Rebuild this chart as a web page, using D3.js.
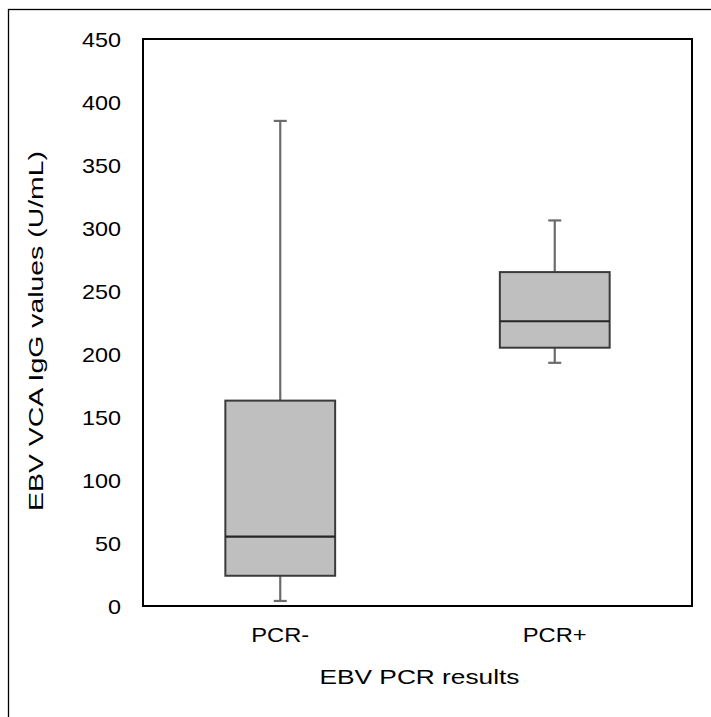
<!DOCTYPE html>
<html>
<head>
<meta charset="utf-8">
<script src="https://cdn.jsdelivr.net/npm/d3@7/dist/d3.min.js"></script>
<style>
  html, body { margin: 0; padding: 0; background: #fff; }
  svg { display: block; }
  text { font-family: "Liberation Sans", Arial, sans-serif; fill: #000; font-weight: normal; }
</style>
</head>
<body>
<div id="chart"></div>
<script>
// Box-plot summaries of EBV VCA IgG values by PCR result
const categories = ["PCR-", "PCR+"];
const whiskerLow = [4, 193];
const q1 = [24, 205];
const median = [55, 226];
const q3 = [163, 265];
const whiskerHigh = [385, 306];
const yTicks = [0, 50, 100, 150, 200, 250, 300, 350, 400, 450];

const W = 711, H = 717;
const plot = { left: 143, top: 39, right: 692, bottom: 606 };
const FONT = "'Liberation Sans', Arial, sans-serif";

const svg = d3.select("#chart").append("svg")
  .attr("width", W).attr("height", H);

svg.append("rect").attr("width", W).attr("height", H).attr("fill", "#fff");

// outer chart frame (runs past the right and bottom edges)
svg.append("rect")
  .attr("x", 8.5).attr("y", 9.5)
  .attr("width", W + 20).attr("height", H + 20)
  .attr("fill", "none").attr("stroke", "#000").attr("stroke-width", 1.3);

const x = d3.scaleBand().domain(categories)
  .range([plot.left, plot.right]).paddingInner(0).paddingOuter(0);
const y = d3.scaleLinear().domain([0, 450]).range([plot.bottom, plot.top]);

const boxW = x.bandwidth() * 0.4;
const capW = 13;

const data = categories.map((c, i) => ({
  c, lo: whiskerLow[i], q1: q1[i], med: median[i], q3: q3[i], hi: whiskerHigh[i]
}));

const g = svg.append("g");
data.forEach(d => {
  const cx = x(d.c) + x.bandwidth() / 2;
  // whiskers
  g.append("line").attr("x1", cx).attr("x2", cx)
    .attr("y1", y(d.q3)).attr("y2", y(d.hi))
    .attr("stroke", "#6b6b6b").attr("stroke-width", 2.2);
  g.append("line").attr("x1", cx).attr("x2", cx)
    .attr("y1", y(d.q1)).attr("y2", y(d.lo))
    .attr("stroke", "#6b6b6b").attr("stroke-width", 2.2);
  [d.hi, d.lo].forEach(v => {
    g.append("line").attr("x1", cx - capW / 2).attr("x2", cx + capW / 2)
      .attr("y1", y(v)).attr("y2", y(v))
      .attr("stroke", "#6b6b6b").attr("stroke-width", 2.2);
  });
  // box
  g.append("rect")
    .attr("x", cx - boxW / 2).attr("width", boxW)
    .attr("y", y(d.q3)).attr("height", y(d.q1) - y(d.q3))
    .attr("fill", "#bfbfbf").attr("stroke", "#3a3a3a").attr("stroke-width", 2);
  // median
  g.append("line").attr("x1", cx - boxW / 2).attr("x2", cx + boxW / 2)
    .attr("y1", y(d.med)).attr("y2", y(d.med))
    .attr("stroke", "#262626").attr("stroke-width", 2.2);
});

// plot frame
svg.append("rect")
  .attr("x", plot.left).attr("y", plot.top)
  .attr("width", plot.right - plot.left).attr("height", plot.bottom - plot.top)
  .attr("fill", "none").attr("stroke", "#000").attr("stroke-width", 2);

// y axis tick labels
const yAxis = d3.axisLeft(y).tickValues(yTicks).tickSize(0).tickPadding(0);
const ya = svg.append("g").attr("transform", `translate(${plot.left - 22},0)`).call(yAxis);
ya.attr("font-family", FONT);
ya.select(".domain").remove();
ya.selectAll("text")
  .attr("font-size", 20).attr("fill", "#000")
  .attr("x", 0).attr("dy", "0.35em")
  .attr("transform", "scale(1.17,1)");

// x axis category labels
const xAxis = d3.axisBottom(x).tickSize(0).tickPadding(0);
const xa = svg.append("g").attr("transform", `translate(0,${plot.bottom})`).call(xAxis);
xa.attr("font-family", FONT);
xa.select(".domain").remove();
xa.selectAll("text")
  .attr("font-size", 21).attr("fill", "#000")
  .attr("x", 0).attr("y", 36).attr("dy", 0)
  .attr("transform", "scale(1.13,1)");

// axis titles
svg.append("text")
  .attr("x", (plot.left + plot.right) / 2 + 2).attr("y", 684)
  .attr("text-anchor", "middle").attr("font-size", 21)
  .attr("textLength", 200).attr("lengthAdjust", "spacingAndGlyphs")
  .text("EBV PCR results");

svg.append("text")
  .attr("transform", `translate(43,${331}) rotate(-90)`)
  .attr("text-anchor", "middle").attr("font-size", 21)
  .attr("textLength", 360).attr("lengthAdjust", "spacingAndGlyphs")
  .text("EBV VCA IgG values (U/mL)");
</script>
</body>
</html>
